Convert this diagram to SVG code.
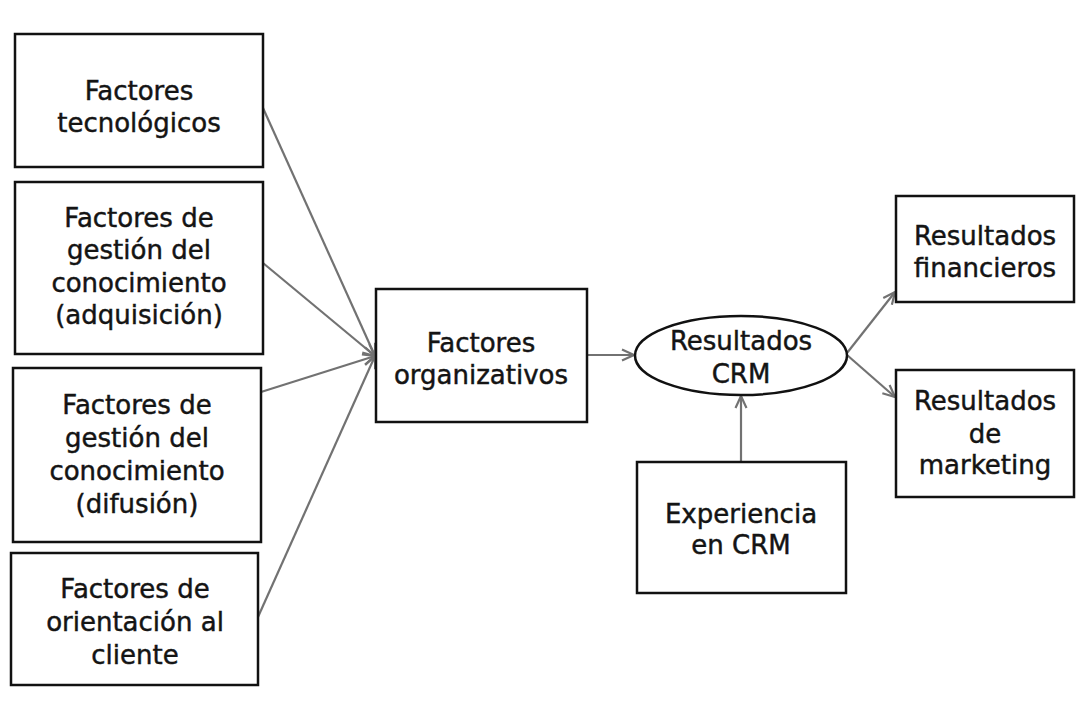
<svg xmlns="http://www.w3.org/2000/svg" width="1078" height="702" viewBox="0 0 1078 702">
  <style>
    .box { fill: #ffffff; stroke: #111111; stroke-width: 2.5; }
    .lbl { font-family: "DejaVu Sans", "Liberation Sans", sans-serif; font-size: 26px; fill: #141414; stroke: #141414; stroke-width: 0.45; text-anchor: middle; }
    .edge { stroke: #727272; stroke-width: 2.2; fill: none; marker-end: url(#arrow); }
  </style>
  <defs>
    <marker id="arrow" viewBox="0 0 14 14" refX="13" refY="7" markerWidth="14" markerHeight="14" markerUnits="userSpaceOnUse" orient="auto">
      <path d="M1,1.5 L13,7 L1,12.5" fill="none" stroke="#727272" stroke-width="2.2"/>
    </marker>
  </defs>
  <rect width="1078" height="702" fill="#ffffff"/>

  <!-- arrows between the factor boxes and the outcome nodes -->
  <g id="connectors">
    <line class="edge" x1="263" y1="108" x2="375" y2="356"/>
    <line class="edge" x1="263" y1="263" x2="375" y2="356"/>
    <line class="edge" x1="261" y1="392" x2="375" y2="356"/>
    <line class="edge" x1="258" y1="617" x2="375" y2="356"/>
    <line class="edge" x1="587" y1="355" x2="634" y2="355"/>
    <line class="edge" x1="847" y1="353" x2="895" y2="292"/>
    <line class="edge" x1="847" y1="355" x2="895" y2="397"/>
    <line class="edge" x1="741" y1="462" x2="741" y2="396"/>
  </g>

  <g id="tecnologicos">
    <rect class="box" x="15" y="34" width="248" height="133"/>
    <text class="lbl" x="139" y="100">Factores</text>
    <text class="lbl" x="139" y="132">tecnológicos</text>
  </g>

  <g id="adquisicion">
    <rect class="box" x="15" y="182" width="248" height="172"/>
    <text class="lbl" x="139" y="227">Factores de</text>
    <text class="lbl" x="139" y="259">gestión del</text>
    <text class="lbl" x="139" y="292">conocimiento</text>
    <text class="lbl" x="139" y="324">(adquisición)</text>
  </g>

  <g id="difusion">
    <rect class="box" x="13" y="368" width="248" height="174"/>
    <text class="lbl" x="137" y="414">Factores de</text>
    <text class="lbl" x="137" y="447">gestión del</text>
    <text class="lbl" x="137" y="480">conocimiento</text>
    <text class="lbl" x="137" y="513">(difusión)</text>
  </g>

  <g id="orientacion">
    <rect class="box" x="11" y="553" width="247" height="132"/>
    <text class="lbl" x="135" y="598">Factores de</text>
    <text class="lbl" x="135" y="631">orientación al</text>
    <text class="lbl" x="135" y="664">cliente</text>
  </g>

  <g id="organizativos">
    <rect class="box" x="376" y="289" width="211" height="133"/>
    <text class="lbl" x="481" y="352">Factores</text>
    <text class="lbl" x="481" y="384">organizativos</text>
  </g>

  <g id="resultados-crm">
    <ellipse class="box" cx="741" cy="355.5" rx="106" ry="39.5" stroke-width="2"/>
    <text class="lbl" x="741" y="350">Resultados</text>
    <text class="lbl" x="741" y="383">CRM</text>
  </g>

  <g id="financieros">
    <rect class="box" x="896" y="196" width="178" height="106"/>
    <text class="lbl" x="985" y="245">Resultados</text>
    <text class="lbl" x="985" y="277">financieros</text>
  </g>

  <g id="marketing">
    <rect class="box" x="896" y="370" width="178" height="127"/>
    <text class="lbl" x="985" y="410">Resultados</text>
    <text class="lbl" x="985" y="443">de</text>
    <text class="lbl" x="985" y="474">marketing</text>
  </g>

  <g id="experiencia">
    <rect class="box" x="637" y="462" width="209" height="131"/>
    <text class="lbl" x="741" y="523">Experiencia</text>
    <text class="lbl" x="741" y="554">en CRM</text>
  </g>
</svg>
